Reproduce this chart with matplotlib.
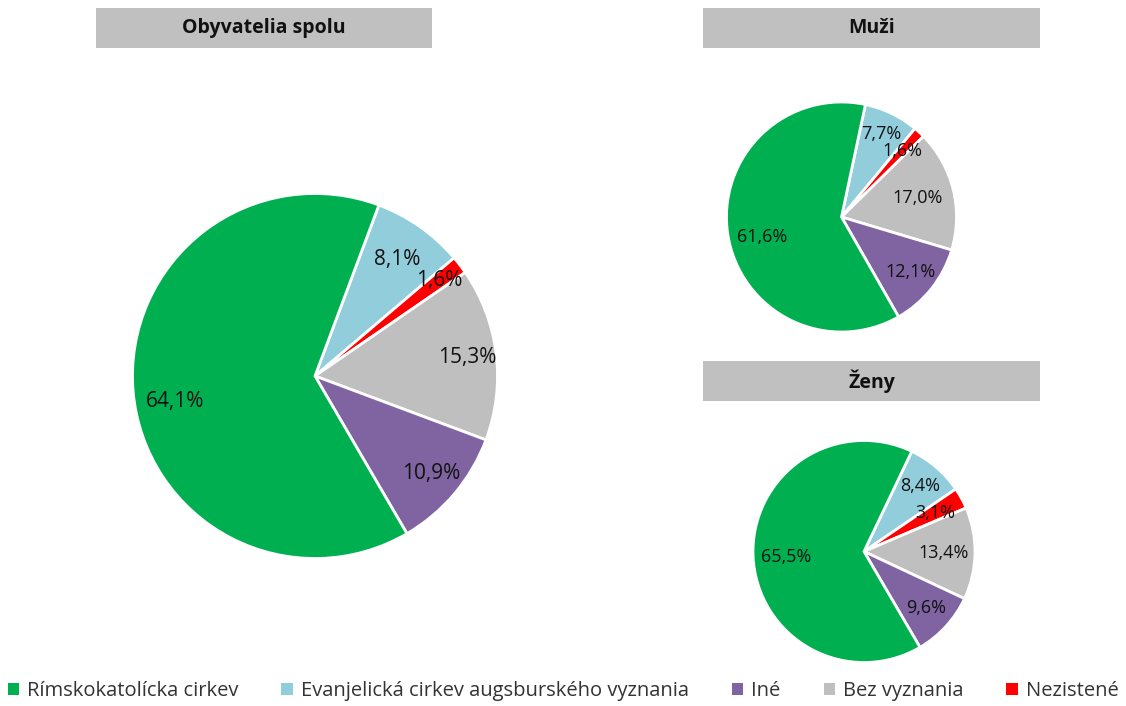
import matplotlib
matplotlib.use("Agg")
import numpy as np
import matplotlib.pyplot as plt
from matplotlib.patches import Patch, Rectangle

plt.rcParams['font.family'] = ['Open Sans', 'DejaVu Sans']

# Data (visual clockwise order)
categories = ["Evanjelická cirkev augsburského vyznania", "Nezistené",
              "Bez vyznania", "Iné", "Rímskokatolícka cirkev"]
total_vals = [8.1, 1.6, 15.3, 10.9, 64.1]
muzi_vals = [7.7, 1.6, 17.0, 12.1, 61.6]
zeny_vals = [8.4, 3.1, 13.4, 9.6, 65.5]

legend_order = ["Rímskokatolícka cirkev", "Evanjelická cirkev augsburského vyznania",
                "Iné", "Bez vyznania", "Nezistené"]

colors = {
    "Rímskokatolícka cirkev": "#00B050",
    "Evanjelická cirkev augsburského vyznania": "#92CDDC",
    "Iné": "#8064A2",
    "Bez vyznania": "#BFBFBF",
    "Nezistené": "#FF0000",
}

W, H = 1126, 706
fig = plt.figure(figsize=(W / 100, H / 100), dpi=100)


def px_axes(cx, cy, r):
    # axes box in figure fraction from pixel centre / radius
    return fig.add_axes([(cx - r) / W, (H - cy - r) / H, 2 * r / W, 2 * r / H])


def draw_pie(cx, cy, r, vals, start, pdist, nudge, fs):
    ax = px_axes(cx, cy, r)
    labels = [f"{v:.1f}".replace(".", ",") + "%" for v in vals]
    wedges, _ = ax.pie(vals, colors=[colors[c] for c in categories],
                       startangle=start, counterclock=False, radius=1,
                       wedgeprops=dict(edgecolor="white", linewidth=2))
    for w, lab, d, dn in zip(wedges, labels, pdist, nudge):
        ang = np.deg2rad((w.theta1 + w.theta2) / 2 + dn)
        ax.text(d * np.cos(ang), d * np.sin(ang), lab, ha="center",
                va="center", fontsize=fs, color="#111111")
    ax.set_xlim(-1, 1)
    ax.set_ylim(-1, 1)
    ax.axis("off")
    return ax


def title_box(x0, x1, y0, y1, text):
    fig.patches.append(Rectangle((x0 / W, 1 - y1 / H), (x1 - x0) / W, (y1 - y0) / H,
                                 transform=fig.transFigure, facecolor="#C0C0C0",
                                 edgecolor="none", zorder=0))
    fig.text((x0 + x1) / 2 / W, 1 - (y0 + y1) / 2 / H, text, ha="center",
             va="center", fontsize=14, fontweight="bold", color="#111111")


draw_pie(315, 376, 182.5, total_vals, 69.5, [0.78, 0.86, 0.84, 0.83, 0.78],
         [0, 0, 0, 0, 5.5], 15)
draw_pie(841.5, 217, 115, muzi_vals, 78, [0.8, 0.78, 0.68, 0.77, 0.71],
         [0, 0, 0, 0, 5], 13)
draw_pie(864, 551.5, 111, zeny_vals, 64.5, [0.78, 0.73, 0.72, 0.76, 0.7],
         [0, 0, 0, 0, 2], 13)

title_box(96, 432, 8, 48, "Obyvatelia spolu")
title_box(703, 1040, 8, 48, "Muži")
title_box(703, 1040, 361, 401, "Ženy")

handles = [Patch(facecolor=colors[c], edgecolor="none") for c in legend_order]
fig.legend(handles, legend_order, loc="center", bbox_to_anchor=(0.5, 1 - 691 / H),
           ncol=5, frameon=False, fontsize=14.5, handlelength=0.55, handleheight=0.55,
           handletextpad=0.4, columnspacing=2.15, labelcolor="#333333")

fig.savefig("out.png", dpi=100)
